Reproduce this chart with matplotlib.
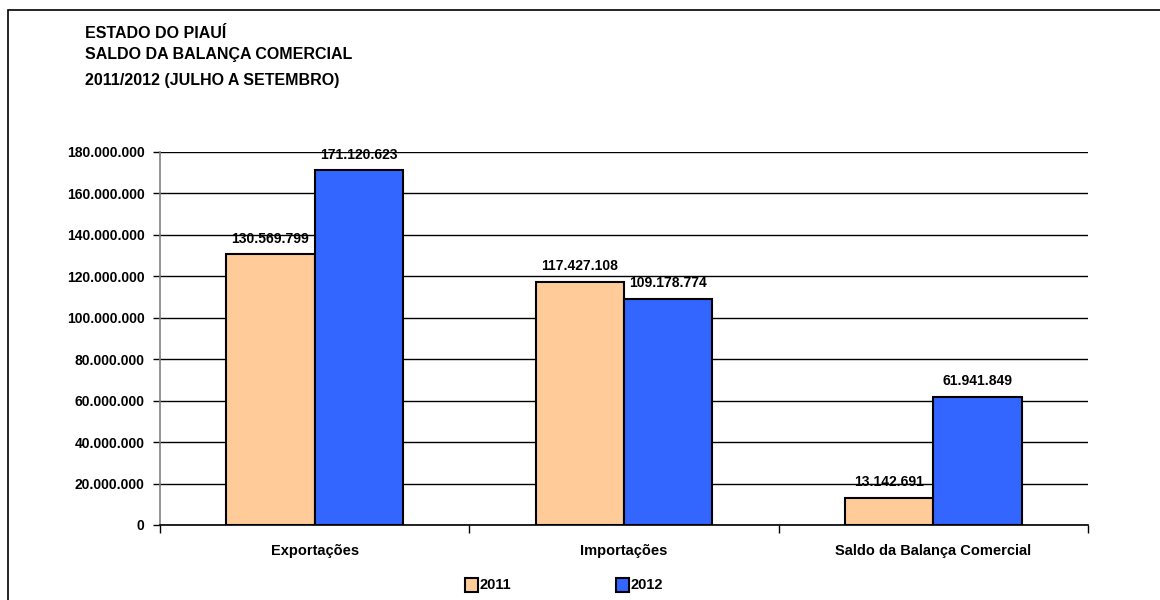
import numpy as np
import matplotlib.pyplot as plt
from matplotlib.patches import Rectangle

categorias = ["Exportações", "Importações", "Saldo da Balança Comercial"]
anos = ["2011", "2012"]
valores_2011 = [130569799, 117427108, 13142691]
valores_2012 = [171120623, 109178774, 61941849]
yticks = [0, 20000000, 40000000, 60000000, 80000000, 100000000,
          120000000, 140000000, 160000000, 180000000]
titulo = ["ESTADO DO PIAUÍ", "SALDO DA BALANÇA COMERCIAL",
          "2011/2012 (JULHO A SETEMBRO)"]

plt.rcParams["font.family"] = ["Liberation Sans", "DejaVu Sans"]
plt.rcParams["font.weight"] = "bold"


def fmt(v):
    return f"{v:,.0f}".replace(",", ".")


fig = plt.figure(figsize=(11.6, 6), dpi=100)
# moldura externa (só esquerda/topo visíveis)
fig.patches.append(Rectangle((8 / 1160, -0.1), 1.2, 1 - 10 / 600 + 0.1,
                             transform=fig.transFigure, fill=False,
                             edgecolor="black", linewidth=1.2))

for i, linha in enumerate(titulo):
    fig.text(85 / 1160, 1 - [33, 55, 81][i] / 600, linha, fontsize=11.5,
             fontweight="bold", va="center", ha="left")

ax = fig.add_axes([160 / 1160, 0.125, 0.8, 0.6217])
x = np.arange(len(categorias))
w = 0.286
b1 = ax.bar(x - w / 2, valores_2011, w, color="#FFCC99", edgecolor="black",
            linewidth=1.5, label=anos[0], zorder=3)
b2 = ax.bar(x + w / 2, valores_2012, w, color="#3366FF", edgecolor="black",
            linewidth=1.5, label=anos[1], zorder=3)

for bars in (b1, b2):
    for r in bars:
        ax.annotate(fmt(r.get_height()), (r.get_x() + r.get_width() / 2, r.get_height()),
                    xytext=(0, 6), textcoords="offset points", ha="center",
                    va="bottom", fontsize=10, fontweight="bold", zorder=4)

ax.set_xlim(-0.5, 2.5)
ax.set_ylim(0, 180000000)
ax.set_yticks(yticks)
ax.set_yticklabels([fmt(v) for v in yticks], fontsize=10, fontweight="bold")
ax.set_xticks(x)
ax.set_xticklabels(categorias, fontsize=10.5, fontweight="bold")
ax.tick_params(axis="x", length=0, pad=14)
ax.set_xticks([-0.5, 0.5, 1.5, 2.5], minor=True)
ax.tick_params(axis="x", which="minor", length=6, width=1, direction="out")
ax.tick_params(axis="y", length=5, width=1, direction="out", pad=6)
ax.grid(axis="y", color="black", linewidth=1, zorder=0)
ax.spines["top"].set_visible(False)
ax.spines["right"].set_visible(False)
ax.spines["left"].set_color("gray")
ax.spines["left"].set_linewidth(1.2)
ax.spines["bottom"].set_linewidth(1.2)

leg = fig.legend(handles=[b1, b2], labels=anos, loc="center",
                 bbox_to_anchor=(564 / 1160, 1 - 585 / 600), ncol=2,
                 frameon=False, fontsize=10.5, handlelength=0.9,
                 handleheight=1.1, handletextpad=0.1, columnspacing=7.2)

fig.savefig("out.png", dpi=100)
